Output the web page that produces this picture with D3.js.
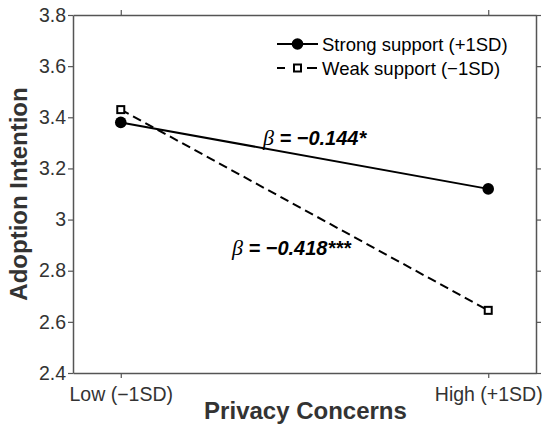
<!DOCTYPE html>
<html><head><meta charset="utf-8">
<script src="https://cdn.jsdelivr.net/npm/d3@7"></script>
<style>body{margin:0;background:#fff}svg{display:block}</style>
</head><body>
<script>
const categories = ["Low (\u22121SD)", "High (+1SD)"];
const strongSupport = [3.38, 3.12];
const weakSupport = [3.43, 2.645];
const yTicks = [2.4, 2.6, 2.8, 3, 3.2, 3.4, 3.6, 3.8];
const seriesNames = ["Strong support (+1SD)", "Weak support (\u22121SD)"];
const betaLabels = ["\u22120.144*", "\u22120.418***"];

const W = 550, H = 430;
const m = {left: 73, right: 14, top: 15, bottom: 57};
const svg = d3.select("body").append("svg").attr("width", W).attr("height", H);
const font = "'Liberation Sans', Arial, sans-serif";
const axisCol = "#555", textCol = "#333";

const x = d3.scaleLinear().domain([-0.13, 1.13]).range([m.left, W - m.right]);
const y = d3.scaleLinear().domain([2.4, 3.8]).range([H - m.bottom, m.top]);

// axes
const xAx = d3.axisBottom(x).tickValues([0, 1]).tickFormat(i => categories[i]).tickSize(5).tickSizeOuter(0);
const xAxTop = d3.axisTop(x).tickValues([0, 1]).tickFormat("").tickSize(5).tickSizeOuter(0);
const yAx = d3.axisLeft(y).tickValues(yTicks).tickFormat(d => d3.format("")(+d.toFixed(1))).tickSize(5).tickSizeOuter(0);
const yAxR = d3.axisRight(y).tickValues(yTicks).tickFormat("").tickSize(5).tickSizeOuter(0);

function style(g) {
  g.select(".domain").attr("stroke", axisCol).attr("stroke-width", 1.5);
  g.selectAll(".tick line").attr("stroke", axisCol).attr("stroke-width", 1.2);
  g.selectAll(".tick text").attr("fill", textCol).style("font-family", font).style("font-size", "19.5px");
}
svg.append("g").attr("transform", `translate(0,${H - m.bottom})`).call(xAx).call(style)
  .selectAll(".tick text").attr("dy", "1.05em");
svg.append("g").attr("transform", `translate(0,${m.top})`).call(xAxTop).call(style);
svg.append("g").attr("transform", `translate(${m.left},0)`).call(yAx).call(style)
  .selectAll(".tick text").attr("x", -7);
svg.append("g").attr("transform", `translate(${W - m.right},0)`).call(yAxR).call(style);

// axis titles
svg.append("text").attr("x", (m.left + W - m.right) / 2 + 1).attr("y", 419)
  .attr("text-anchor", "middle").attr("fill", textCol)
  .style("font-family", font).style("font-size", "24px").style("font-weight", "bold")
  .text("Privacy Concerns");
svg.append("text").attr("transform", `translate(27,194) rotate(-90)`)
  .attr("text-anchor", "middle").attr("fill", textCol)
  .style("font-family", font).style("font-size", "24px").style("font-weight", "bold")
  .text("Adoption Intention");

// lines
const line = d3.line().x((d, i) => x(i)).y(d => y(d));
svg.append("path").datum(strongSupport).attr("d", line)
  .attr("fill", "none").attr("stroke", "#000").attr("stroke-width", 2);
svg.append("path").datum(weakSupport).attr("d", line)
  .attr("fill", "none").attr("stroke", "#000").attr("stroke-width", 2).attr("stroke-dasharray", "9,5");

svg.selectAll(".cs").data(strongSupport).enter().append("circle")
  .attr("cx", (d, i) => x(i)).attr("cy", d => y(d)).attr("r", 5.8).attr("fill", "#000");
svg.selectAll(".sq").data(weakSupport).enter().append("rect")
  .attr("x", (d, i) => x(i) - 3.5).attr("y", d => y(d) - 3.5).attr("width", 7).attr("height", 7)
  .attr("fill", "#fff").attr("stroke", "#000").attr("stroke-width", 2);

// legend
const lg = svg.append("g");
const rows = [{y: 44, dash: null}, {y: 68, dash: "8,22,10,100"}];
rows.forEach((r, i) => {
  lg.append("line").attr("x1", 277).attr("x2", 318).attr("y1", r.y).attr("y2", r.y)
    .attr("stroke", "#000").attr("stroke-width", 2).attr("stroke-dasharray", r.dash);
  if (i === 0) lg.append("circle").attr("cx", 297.5).attr("cy", r.y).attr("r", 5.8).attr("fill", "#000");
  else lg.append("rect").attr("x", 294).attr("y", r.y - 3.5).attr("width", 7).attr("height", 7)
    .attr("fill", "#fff").attr("stroke", "#000").attr("stroke-width", 2);
  lg.append("text").attr("x", 322).attr("y", r.y + 6.5).attr("fill", "#000")
    .style("font-family", font).style("font-size", "18.5px").text(seriesNames[i]);
});

// annotations
const ann = [{x: 263, y: 145}, {x: 232, y: 255}];
ann.forEach((a, i) => {
  const t = svg.append("text").attr("x", a.x).attr("y", a.y).attr("fill", "#000").style("font-size", "20px");
  t.append("tspan").style("font-family", "'Liberation Serif', serif").style("font-style", "italic").style("font-size", "22px").text("\u03b2");
  t.append("tspan").style("font-family", font).style("font-style", "italic").style("font-weight", "bold")
    .text(" = " + betaLabels[i]);
});
</script>
</body></html>
